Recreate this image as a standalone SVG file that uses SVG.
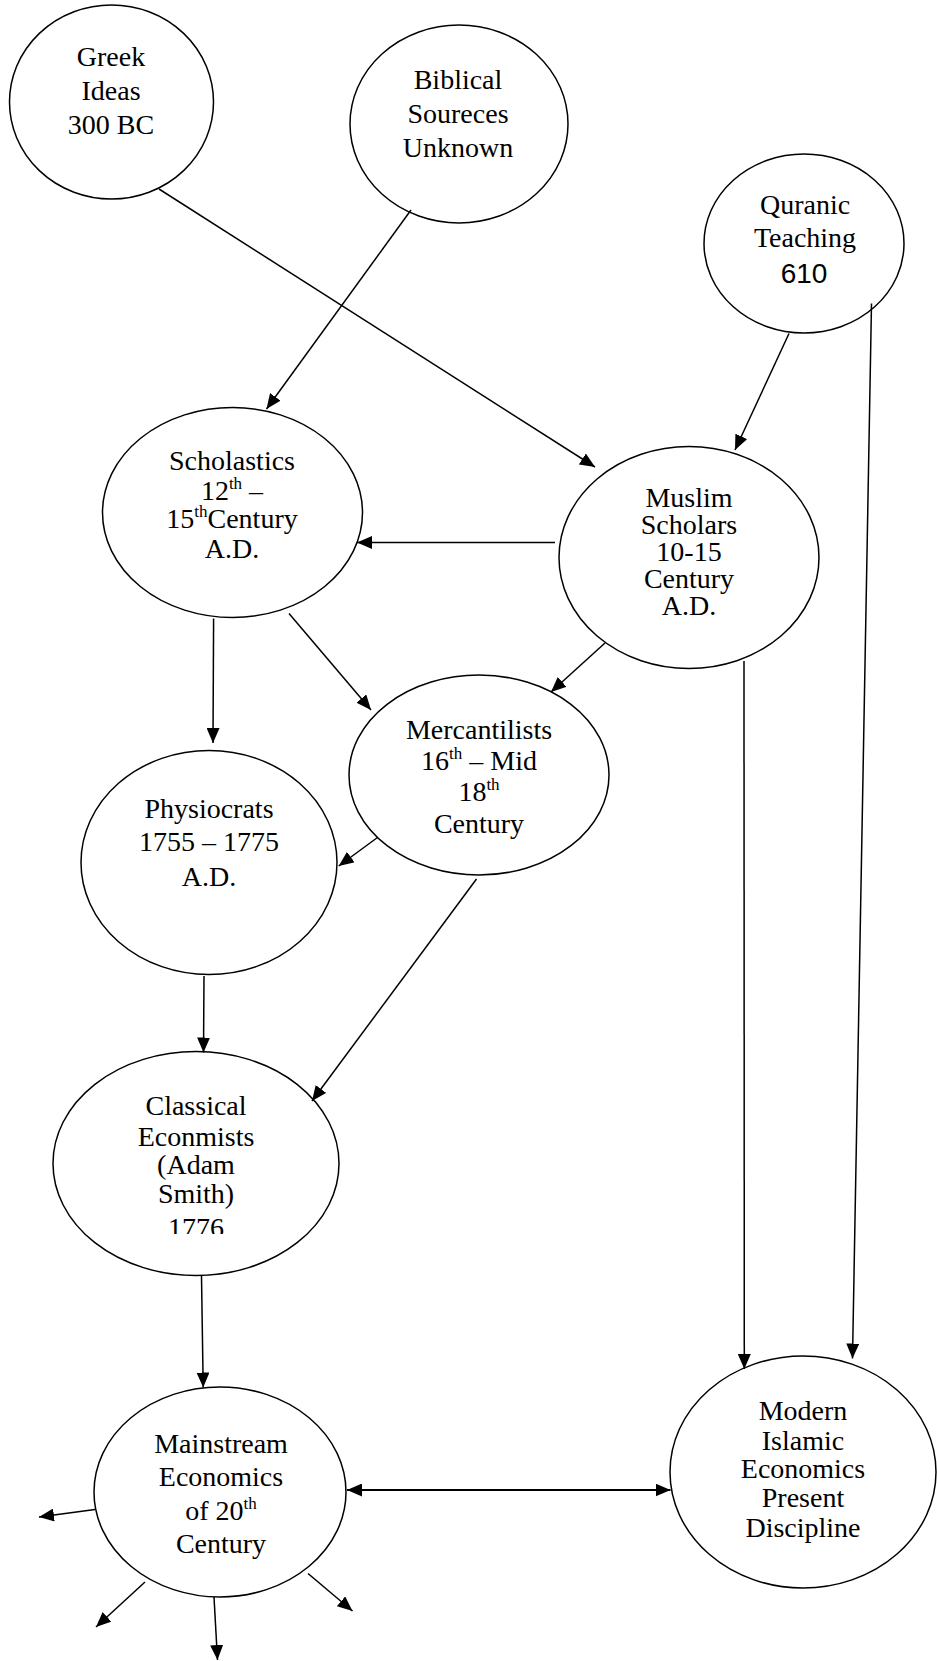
<svg xmlns="http://www.w3.org/2000/svg" width="937" height="1661" viewBox="0 0 937 1661">
<style>
.n{fill:#fff;stroke:#000;stroke-width:1.5}
.t{font-family:"Liberation Serif","Times New Roman",serif;font-size:28px;fill:#000;text-anchor:middle}
.s{font-family:"Liberation Sans",Arial,sans-serif}
.c line{stroke:#000;stroke-width:1.5;marker-end:url(#ah)}
.sup{font-size:17px}
</style>
<defs>
<marker id="ah" viewBox="0 0 15 13" refX="15" refY="6.5" markerWidth="15" markerHeight="13" markerUnits="userSpaceOnUse" orient="auto"><path d="M0,0 L15,6.5 L0,13 z" fill="#000"/></marker>
<marker id="ahs" viewBox="0 0 15 13" refX="15" refY="6.5" markerWidth="15" markerHeight="13" markerUnits="userSpaceOnUse" orient="auto-start-reverse"><path d="M0,0 L15,6.5 L0,13 z" fill="#000"/></marker>
<clipPath id="clipC"><rect x="0" y="0" width="937" height="1234"/></clipPath>
</defs>

<g id="greek"><ellipse class="n" cx="111.5" cy="102" rx="102" ry="97"/>
<text class="t"><tspan x="111" y="66">Greek</tspan><tspan x="111" y="100">Ideas</tspan><tspan x="111" y="134">300 BC</tspan></text></g>

<g id="biblical"><ellipse class="n" cx="459" cy="124" rx="109" ry="99"/>
<text class="t"><tspan x="458" y="89">Biblical</tspan><tspan x="458" y="123">Soureces</tspan><tspan x="458" y="157">Unknown</tspan></text></g>

<g id="quranic"><ellipse class="n" cx="804" cy="243.5" rx="100" ry="89.5"/>
<text class="t"><tspan x="805" y="214">Quranic</tspan><tspan x="805" y="247">Teaching</tspan><tspan x="804" y="283" class="s">610</tspan></text></g>

<g id="scholastics"><ellipse class="n" cx="232.5" cy="512.5" rx="130" ry="105"/>
<text class="t" x="232" y="470">Scholastics</text>
<text class="t" x="232" y="500">12<tspan class="sup" dy="-11">th</tspan><tspan dy="11"> –</tspan></text>
<text class="t" x="232" y="528">15<tspan class="sup" dy="-11">th</tspan><tspan dy="11">Century</tspan></text>
<text class="t" x="232" y="558">A.D.</text></g>

<g id="muslim"><ellipse class="n" cx="689" cy="557.5" rx="130" ry="111"/>
<text class="t"><tspan x="689" y="507">Muslim</tspan><tspan x="689" y="534">Scholars</tspan><tspan x="689" y="561">10-15</tspan><tspan x="689" y="588">Century</tspan><tspan x="689" y="615">A.D.</tspan></text></g>

<g id="mercantilists"><ellipse class="n" cx="479" cy="775" rx="130" ry="100"/>
<text class="t" x="479" y="739">Mercantilists</text>
<text class="t" x="479" y="770">16<tspan class="sup" dy="-11">th</tspan><tspan dy="11"> – Mid</tspan></text>
<text class="t" x="479" y="801">18<tspan class="sup" dy="-11">th</tspan></text>
<text class="t" x="479" y="833">Century</text></g>

<g id="physiocrats"><ellipse class="n" cx="209" cy="862.5" rx="128" ry="112"/>
<text class="t"><tspan x="209" y="818">Physiocrats</tspan><tspan x="209" y="851">1755 – 1775</tspan><tspan x="209" y="886">A.D.</tspan></text></g>

<g id="classical"><ellipse class="n" cx="196" cy="1163.5" rx="143" ry="112"/>
<text class="t"><tspan x="196" y="1115">Classical</tspan><tspan x="196" y="1146">Econmists</tspan><tspan x="196" y="1174">(Adam</tspan><tspan x="196" y="1203">Smith)</tspan></text>
<text class="t" x="196" y="1237" clip-path="url(#clipC)">1776</text></g>

<g id="mainstream"><ellipse class="n" cx="220" cy="1492" rx="126" ry="105"/>
<text class="t" x="221" y="1453">Mainstream</text>
<text class="t" x="221" y="1486">Economics</text>
<text class="t" x="221" y="1520">of 20<tspan class="sup" dy="-11">th</tspan></text>
<text class="t" x="221" y="1553">Century</text></g>

<g id="modern"><ellipse class="n" cx="803" cy="1472" rx="133" ry="116"/>
<text class="t"><tspan x="803" y="1420">Modern</tspan><tspan x="803" y="1450">Islamic</tspan><tspan x="803" y="1478">Economics</tspan><tspan x="803" y="1507">Present</tspan><tspan x="803" y="1537">Discipline</tspan></text></g>

<g id="connectors" class="c">
<line x1="159" y1="189" x2="595" y2="467"/>
<line x1="411" y1="210" x2="266.5" y2="409"/>
<line x1="789" y1="333.5" x2="735" y2="450"/>
<line x1="871.5" y1="303.5" x2="852.5" y2="1358.5"/>
<line x1="555" y1="542.5" x2="357" y2="542.5"/>
<line x1="213.6" y1="618.5" x2="213" y2="743"/>
<line x1="289" y1="613.5" x2="371" y2="710"/>
<line x1="605" y1="643" x2="551" y2="692"/>
<line x1="377.5" y1="837.5" x2="338.7" y2="866"/>
<line x1="744" y1="661" x2="744.3" y2="1369"/>
<line x1="204" y1="976" x2="203.5" y2="1052.5"/>
<line x1="476.5" y1="879" x2="312" y2="1101"/>
<line x1="201.5" y1="1276" x2="203.2" y2="1387.5"/>
<line x1="347" y1="1490" x2="670.5" y2="1490" style="stroke-width:2;marker-start:url(#ahs)"/>
<line x1="95" y1="1509.5" x2="39" y2="1517"/>
<line x1="145" y1="1582" x2="96" y2="1627"/>
<line x1="214" y1="1597" x2="217.5" y2="1660"/>
<line x1="308" y1="1573.5" x2="352.5" y2="1611"/>
</g>
</svg>
